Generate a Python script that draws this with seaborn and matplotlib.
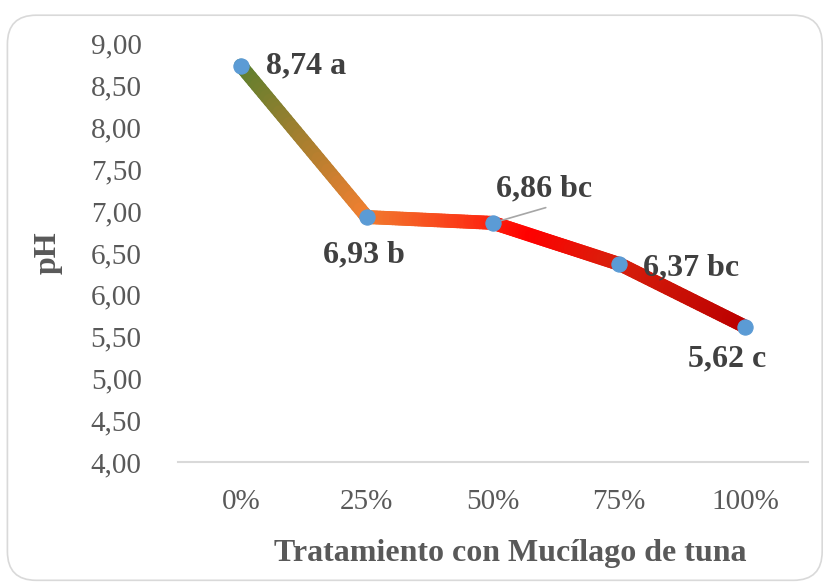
import numpy as np
import pandas as pd
import matplotlib
matplotlib.use("Agg")
import matplotlib.pyplot as plt
import seaborn as sns
from matplotlib.collections import LineCollection
from matplotlib.colors import LinearSegmentedColormap
from matplotlib.patches import FancyBboxPatch
from matplotlib.ticker import FuncFormatter

# --- Data ---
tratamientos = ["0%", "25%", "50%", "75%", "100%"]
ph_values = [8.74, 6.93, 6.86, 6.37, 5.62]
letras = ["a", "b", "bc", "bc", "c"]

sns.set_theme(style="white")
plt.rcParams['font.family'] = ['Liberation Serif', 'DejaVu Serif']

df = pd.DataFrame({"tratamiento": tratamientos, "ph": ph_values})

fig = plt.figure(figsize=(8.23, 5.85), dpi=100)
ax = fig.add_axes([0.216, 0.210, 0.766, 0.715])

# rounded chart border
border = FancyBboxPatch((0.009, 0.008), 0.99, 0.966, boxstyle="round,pad=0,rounding_size=0.035",
                        transform=fig.transFigure, facecolor="none", edgecolor="#d9d9d9",
                        linewidth=1.2, mutation_aspect=823 / 585)
fig.patches.append(border)

sns.lineplot(data=df, x="tratamiento", y="ph", sort=False, ax=ax, marker="o",
             markersize=11, color="#5b9bd5", markerfacecolor="#5b9bd5",
             markeredgecolor="#5b9bd5", linewidth=0, zorder=5)

# gradient line built from the plotted points
line = ax.lines[0]
xs = np.asarray(line.get_xdata(), dtype=float)
ys = np.asarray(line.get_ydata(), dtype=float)
segs, cvals = [], []
for i in range(len(xs) - 1):
    t = np.linspace(0, 1, 40)
    px = xs[i] + (xs[i + 1] - xs[i]) * t
    py = ys[i] + (ys[i + 1] - ys[i]) * t
    for j in range(len(t) - 1):
        segs.append([(px[j], py[j]), (px[j + 1], py[j + 1])])
        cvals.append((px[j] + px[j + 1]) / 2)
cmap = LinearSegmentedColormap.from_list("grad", [
    (0.0, "#5a7f2e"), (0.25, "#f07f30"), (0.45, "#fb3a18"),
    (0.58, "#ff0000"), (0.75, "#d8200c"), (1.0, "#bc0000")])
lc = LineCollection(segs, cmap=cmap, norm=plt.Normalize(0, 4), linewidth=10,
                    capstyle="round", joinstyle="round", zorder=3)
lc.set_array(np.array(cvals))
ax.add_collection(lc)

# data labels
lab_style = dict(fontsize=23, fontweight="bold", color="#404040")
offsets = [(18, 0, "left", "center"), (-2, -17, "center", "top"),
           (2, 14, "left", "bottom"), (17, -3, "left", "center"),
           (-13, -13, "center", "top")]
for i, (v, l) in enumerate(zip(ph_values, letras)):
    dx, dy, ha, va = offsets[i]
    txt = f"{v:.2f}".replace(".", ",") + " " + l
    ax.annotate(txt, (i, v), xytext=(dx, dy), textcoords="offset points",
                ha=ha, va=va, zorder=6, **lab_style)
# leader line for 50%
ax.annotate("", (2, ph_values[2]), xytext=(38, 11), textcoords="offset points",
            arrowprops=dict(arrowstyle="-", color="#a6a6a6", lw=1.2, shrinkA=0, shrinkB=0), zorder=4)

ax.set_xlim(-0.5, 4.5)
ax.set_ylim(4, 9)
ax.set_yticks(np.arange(4, 9.01, 0.5))
ax.yaxis.set_major_formatter(FuncFormatter(lambda v, p: f"{v:.2f}".replace(".", ",")))
ax.tick_params(axis="y", labelsize=21, colors="#595959", length=0, pad=26)
ax.tick_params(axis="x", labelsize=21, colors="#595959", length=0, pad=19)

for s in ["top", "right", "left"]:
    ax.spines[s].set_visible(False)
ax.spines["bottom"].set_color("#d9d9d9")
ax.spines["bottom"].set_linewidth(1.5)
ax.grid(False)

ax.set_xlabel("Tratamiento con Mucílago de tuna", fontsize=23, fontweight="bold",
              color="#595959")
ax.xaxis.set_label_coords(0.527, -0.183)
ax.set_ylabel("pH", fontsize=23, fontweight="bold", color="#595959", labelpad=20)

fig.savefig("out.png", dpi=100)
